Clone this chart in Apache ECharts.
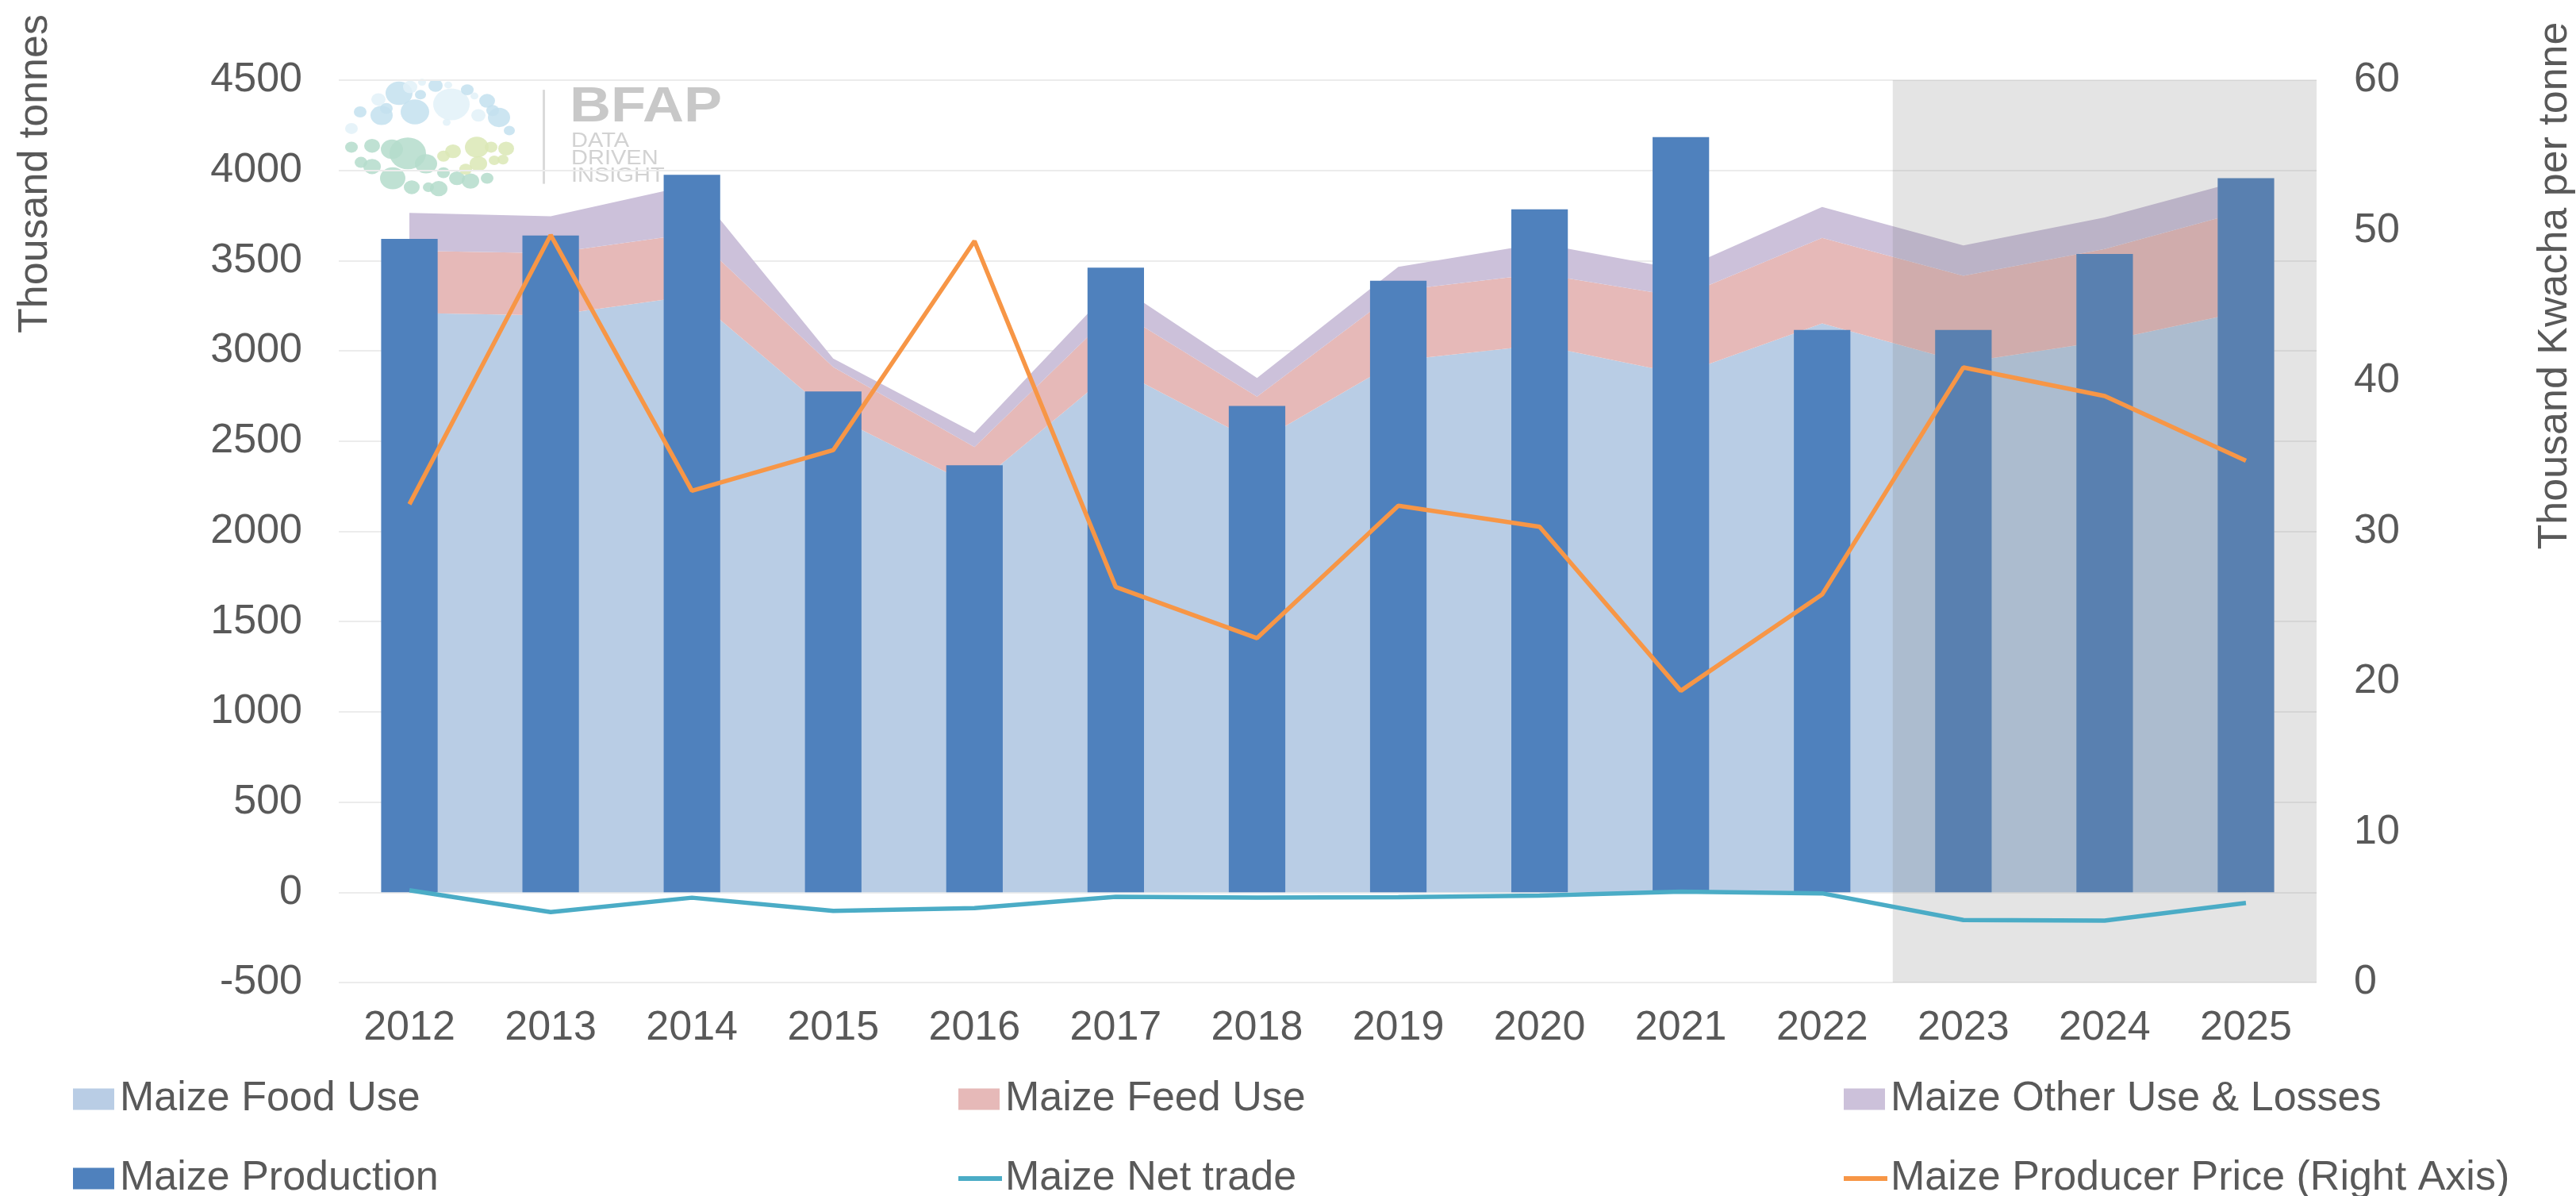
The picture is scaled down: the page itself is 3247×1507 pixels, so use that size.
<!DOCTYPE html>
<html>
<head>
<meta charset="utf-8">
<script src="https://cdn.jsdelivr.net/npm/echarts@6/dist/echarts.min.js"></script>
<style>
  html, body { margin: 0; padding: 0; background: #fff; }
  #main { width: 3247px; height: 1507px; }
</style>
</head>
<body>
<div id="main"></div>
<script>
// data (thousand tonnes, price in thousand Kwacha/t)
var years = ['2012', '2013', '2014', '2015', '2016', '2017', '2018', '2019', '2020', '2021', '2022', '2023', '2024', '2025'];
var foodUse = [3210, 3196, 3305, 2641, 2250, 2900, 2493, 2947, 3032, 2872, 3152, 2936, 3054, 3220];
var feedUse = [345, 345, 345, 269, 217, 328, 253, 388, 395, 427, 474, 480, 510, 558];
var otherUse = [210, 205, 270, 48, 78, 142, 104, 131, 168, 151, 171, 168, 175, 172];
var production = [3620, 3639, 3976, 2775, 2366, 3461, 2695, 3388, 3784, 4185, 3116, 3116, 3537, 3957];
var netTrade = [11, -110, -30, -103, -88, -25, -30, -27, -18, 4, -6, -154, -157, -59];
var producerPrice = [31.8, 49.7, 32.7, 35.4, 49.3, 26.3, 22.9, 31.7, 30.3, 19.4, 25.8, 40.9, 39.0, 34.7];
var outlookYears = ['2023', '2025']; // shaded projection period

var FONT = "'Liberation Sans', Arial, sans-serif";
var TXT = '#595959';

var myChart = echarts.init(document.getElementById('main'));

// logo bubbles (decoration only): x, y, r, colour
var bubbles = [
  [503, 126, 17, '#c3e0ee'], [523, 153, 18, '#c3e0ee'], [481, 158, 14, '#c3e0ee'],
  [569, 142, 23, '#e2f1f8'], [549, 115, 9, '#c3e0ee'], [517, 117, 9, '#e2f1f8'],
  [532, 110, 5, '#e2f1f8'], [565, 114, 5, '#e2f1f8'], [589, 121, 8, '#c3e0ee'],
  [598, 130, 5, '#e2f1f8'], [614, 137, 10, '#c3e0ee'], [629, 161, 14, '#c3e0ee'],
  [621, 151, 8, '#c3e0ee'], [603, 158, 9, '#e2f1f8'], [642, 180, 7, '#c3e0ee'],
  [563, 168, 5, '#e2f1f8'], [530, 128, 7, '#c3e0ee'], [487, 148, 8, '#c3e0ee'],
  [454, 153, 8, '#c3e0ee'], [477, 135, 9, '#e2f1f8'], [443, 177, 8, '#e2f1f8'],
  [443, 204, 8, '#b4dccb'], [469, 202, 10, '#b4dccb'], [494, 207, 14, '#b4dccb'],
  [514, 213, 23, '#b4dccb'], [537, 228, 14, '#b4dccb'], [455, 226, 8, '#b4dccb'],
  [469, 232, 11, '#b4dccb'], [495, 249, 16, '#b4dccb'], [519, 262, 10, '#b4dccb'],
  [540, 262, 7, '#b4dccb'], [553, 264, 11, '#b4dccb'], [559, 241, 8, '#b4dccb'],
  [576, 249, 10, '#b4dccb'], [593, 253, 11, '#b4dccb'], [614, 249, 8, '#b4dccb'],
  [601, 204, 15, '#dbe8b5'], [571, 210, 10, '#dbe8b5'], [559, 217, 8, '#dbe8b5'],
  [619, 204, 8, '#dbe8b5'], [638, 206, 10, '#dbe8b5'], [603, 228, 11, '#dbe8b5'],
  [623, 223, 7, '#dbe8b5'], [634, 222, 7, '#dbe8b5'], [587, 236, 8, '#dbe8b5']
];

var logo = bubbles.map(function (b) {
  return { type: 'circle', shape: { cx: b[0], cy: b[1], r: b[2] }, style: { fill: b[3], opacity: 0.85 }, silent: true };
});
logo.push(
  { type: 'rect', shape: { x: 684, y: 121, width: 3, height: 136 }, style: { fill: '#dadada' }, silent: true },
  { type: 'text', x: 718, y: 147, style: { text: 'BFAP', font: 'bold 72px ' + FONT, fill: '#c8c8c8', verticalAlign: 'middle' }, silent: true },
  { type: 'text', x: 720, y: 196, style: { text: 'DATA', font: '29px ' + FONT, fill: '#d2d2d2', verticalAlign: 'middle' }, silent: true },
  { type: 'text', x: 720, y: 221, style: { text: 'DRIVEN', font: '29px ' + FONT, fill: '#d2d2d2', verticalAlign: 'middle' }, silent: true },
  { type: 'text', x: 720, y: 246, style: { text: 'INSIGHT', font: '29px ' + FONT, fill: '#d2d2d2', verticalAlign: 'middle' }, silent: true }
);

function areaSeries(name, data, color) {
  return {
    name: name,
    type: 'line',
    stack: 'use',
    data: data,
    symbol: 'none',
    z: 1,
    itemStyle: { color: color },
    lineStyle: { width: 0 },
    areaStyle: { color: color, opacity: 1 }
  };
}

// one legend per entry so the 3x2 Excel layout can be placed exactly
function legendItem(left, top, name, isLine) {
  return {
    left: left,
    top: top,
    icon: 'rect',
    itemWidth: isLine ? 55 : 52,
    itemHeight: isLine ? 6 : 27,
    textStyle: { fontSize: 52, color: TXT, fontFamily: FONT, padding: [0, 0, 0, isLine ? -1 : 2] },
    data: [name]
  };
}

var option = {
  backgroundColor: '#fff',
  animation: false,
  grid: { left: 427, right: 327, top: 101, bottom: 269 },
  legend: [
    legendItem(87, 1354, 'Maize Food Use'),
    legendItem(87, 1454, 'Maize Production'),
    legendItem(1203, 1354, 'Maize Feed Use'),
    legendItem(1203, 1454, 'Maize Net trade', true),
    legendItem(2319, 1354, 'Maize Other Use & Losses'),
    legendItem(2319, 1454, 'Maize Producer Price (Right Axis)', true)
  ],
  graphic: [
    // the logo picture is a little squashed vertically in the original
    { type: 'group', children: logo, z: 0, scaleY: 0.871, originY: 60 },
    { type: 'text', x: 45, y: 219, rotation: Math.PI / 2,
      style: { text: 'Thousand tonnes', font: '52px ' + FONT, fill: TXT, align: 'center', verticalAlign: 'middle' } },
    { type: 'text', x: 3221, y: 360, rotation: Math.PI / 2,
      style: { text: 'Thousand Kwacha per tonne', font: '52px ' + FONT, fill: TXT, align: 'center', verticalAlign: 'middle' } }
  ],
  xAxis: {
    type: 'category',
    data: years,
    axisLine: { show: false },
    axisTick: { show: false },
    axisLabel: { fontSize: 52, color: TXT, fontFamily: FONT, margin: 32 }
  },
  yAxis: [
    {
      type: 'value',
      min: -500, max: 4500, interval: 500,
      axisLine: { show: false },
      axisTick: { show: false },
      axisLabel: { fontSize: 52, color: TXT, fontFamily: FONT, margin: 46, formatter: function (v) { return String(v); } },
      splitLine: { lineStyle: { color: '#ececec', width: 2 } }
    },
    {
      type: 'value',
      position: 'right',
      min: 0, max: 60, interval: 10,
      axisLine: { show: false },
      axisTick: { show: false },
      axisLabel: { fontSize: 52, color: TXT, fontFamily: FONT, margin: 47 },
      splitLine: { show: false }
    }
  ],
  series: [
    areaSeries('Maize Food Use', foodUse, '#b9cde5'),
    areaSeries('Maize Feed Use', feedUse, '#e6b9b8'),
    areaSeries('Maize Other Use & Losses', otherUse, '#ccc1da'),
    {
      name: 'Maize Production',
      type: 'bar',
      data: production,
      z: 2,
      barCategoryGap: '60%',
      itemStyle: { color: '#4f81bd' }
    },
    {
      // grey band over the projection years, spanning whole category bands
      type: 'custom',
      silent: true,
      z: 3,
      data: [[years.indexOf(outlookYears[0]), years.indexOf(outlookYears[1])]],
      renderItem: function (params, api) {
        var cs = params.coordSys;
        var a = api.coord([api.value(0), 0]);
        var b = api.coord([api.value(1), 0]);
        var bw = api.size([1, 0])[0];
        return {
          type: 'rect',
          shape: { x: a[0] - bw / 2, y: cs.y, width: b[0] - a[0] + bw, height: cs.height },
          style: { fill: 'rgba(128,128,128,0.21)' }
        };
      }
    },
    {
      name: 'Maize Net trade',
      type: 'line',
      data: netTrade,
      symbol: 'none',
      z: 4,
      itemStyle: { color: '#4bacc6' },
      lineStyle: { color: '#4bacc6', width: 5.5 }
    },
    {
      name: 'Maize Producer Price (Right Axis)',
      type: 'line',
      yAxisIndex: 1,
      data: producerPrice,
      symbol: 'none',
      z: 5,
      itemStyle: { color: '#f79646' },
      lineStyle: { color: '#f79646', width: 5.5 }
    }
  ]
};

myChart.setOption(option);
</script>
</body>
</html>
